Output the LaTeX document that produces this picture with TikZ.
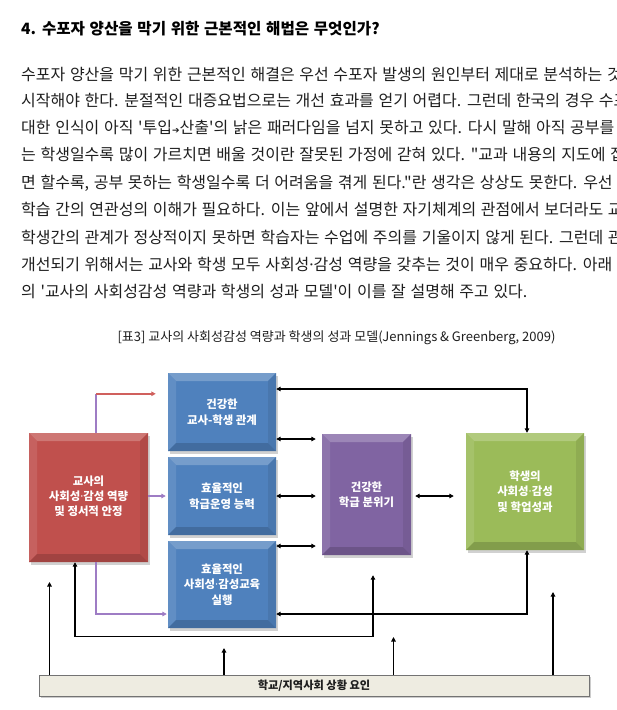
\documentclass[tikz,border=0pt]{standalone}
\usepackage{fontspec}
\setmainfont{Noto Sans CJK KR}
\newfontfamily\parafont[WordSpace=1.3]{Noto Sans CJK KR}
\newfontfamily\latinfont{Noto Sans}
\newfontfamily\dejavu{DejaVu Sans}
\newcommand\md{{\latinfont ·}}
\usetikzlibrary{arrows.meta}
\definecolor{bxblue}{HTML}{4F81BD}
\definecolor{bxred}{HTML}{C0504D}
\definecolor{bxpurple}{HTML}{8064A2}
\definecolor{bxgreen}{HTML}{9BBB59}
\definecolor{barfill}{HTML}{EEECE1}
\definecolor{lineviolet}{HTML}{9E7CC4}
\definecolor{linered}{HTML}{D0605D}
\definecolor{txt}{HTML}{1E1E1E}
\tikzset{
  para/.style={anchor=base west, inner sep=0pt, text=txt,
    font=\parafont\fontsize{16}{19}\selectfont},
  headline/.style={anchor=base west, inner sep=0pt, text=black,
    font=\parafont\bfseries\fontsize{15.6}{19}\selectfont},
  captionstyle/.style={inner sep=0pt, text=txt, font=\fontsize{13}{15}\selectfont},
  boxtext/.style={inner sep=0pt, text=white, align=center,
    font=\bfseries\fontsize{11.4}{15.5}\selectfont},
  con/.style={line width=1.4pt, draw=black,
    arrows={-Triangle[length=4.5pt,width=4.5pt]}},
  dbl/.style={line width=1.4pt, draw=black,
    arrows={Triangle[length=4.5pt,width=4.5pt]-Triangle[length=4.5pt,width=4.5pt]}},
  vline/.style={line width=1.4pt, draw=lineviolet},
  varrow/.style={line width=1.4pt, draw=lineviolet,
    arrows={-Triangle[length=4.5pt,width=4.5pt]}},
  rarrow/.style={line width=1.4pt, draw=linered,
    arrows={-Triangle[length=4.5pt,width=4.5pt]}},
}
% name, x1, y1, x2, y2, colour, text
\newcommand\mybevel[7]{%
  \fill[black!18] (#2+1.5,#3+2.5) rectangle (#4+1.5,#5+2.5);
  \fill[#6] (#2,#3) rectangle (#4,#5);
  \fill[#6!78!white] (#2,#3)--(#4,#3)--(#4-8,#3+8)--(#2+8,#3+8)--cycle;
  \fill[#6!90!white] (#2,#3)--(#2+8,#3+8)--(#2+8,#5-8)--(#2,#5)--cycle;
  \fill[#6!92!black] (#4,#3)--(#4,#5)--(#4-8,#5-8)--(#4-8,#3+8)--cycle;
  \fill[#6!84!black] (#2,#5)--(#4,#5)--(#4-8,#5-8)--(#2+8,#5-8)--cycle;
  \node[boxtext, minimum width={(#4-#2)*1pt}, minimum height={(#5-#3)*1pt}]
    (#1) at ({(#2+#4)/2},{(#3+#5)/2}) {#7};
}
\begin{document}
\begin{tikzpicture}[x=1pt,y=-1pt]
\useasboundingbox (0,0) rectangle (617,710);
\clip (0,0) rectangle (617,710);
\fill[white] (0,0) rectangle (617,710);

% heading and paragraph
\node[headline] (h) at (21,34.5) {4. 수포자 양산을 막기 위한 근본적인 해법은 무엇인가?};
\node[para] (l1) at (21,80.5) {수포자 양산을 막기 위한 근본적인 해결은 우선 수포자 발생의 원인부터 제대로 분석하는 것};
\node[para] (l2) at (21,106) {시작해야 한다. 분절적인 대증요법으로는 개선 효과를 얻기 어렵다. 그런데 한국의 경우 수포};
\node[para] (l3) at (21,133) {대한 인식이 아직 '투입{\dejavu\fontsize{9}{10}\selectfont ➔}산출'의 낡은 패러다임을 넘지 못하고 있다. 다시 말해 아직 공부를 못};
\node[para] (l4) at (21,160) {는 학생일수록 많이 가르치면 배울 것이란 잘못된 가정에 갇혀 있다. "교과 내용의 지도에 집};
\node[para] (l5) at (21,188) {면 할수록, 공부 못하는 학생일수록 더 어려움을 겪게 된다."란 생각은 상상도 못한다. 우선 관};
\node[para] (l6) at (21,215) {학습 간의 연관성의 이해가 필요하다. 이는 앞에서 설명한 자기체계의 관점에서 보더라도 교};
\node[para] (l7) at (21,243) {학생간의 관계가 정상적이지 못하면 학습자는 수업에 주의를 기울이지 않게 된다. 그런데 관};
\node[para] (l8) at (21,270.5) {개선되기 위해서는 교사와 학생 모두 사회성\md 감성 역량을 갖추는 것이 매우 중요하다. 아래 [표};
\node[para] (l9) at (21,297.5) {의 '교사의 사회성감성 역량과 학생의 성과 모델'이 이를 잘 설명해 주고 있다.};

% caption
\node[captionstyle] (cap) at (336.5,338) {[표3] 교사의 사회성감성 역량과 학생의 성과 모델(Jennings \& Greenberg, 2009)};

% boxes
\mybevel{r}{29}{433}{148}{562}{bxred}{\raisebox{4pt}{\begin{tabular}{@{}c@{}}교사의\\[-0.5pt]사회성\md 감성 역량\\[-0.5pt]및 정서적 안정\end{tabular}}}
\mybevel{b1}{168}{373}{276}{451}{bxblue}{건강한\\교사-학생 관계}
\mybevel{b2}{168}{457}{276}{535}{bxblue}{효율적인\\학급운영 능력}
\mybevel{b3}{168}{541}{276}{628}{bxblue}{효율적인\\사회성\md 감성교육\\실행}
\mybevel{p}{322}{434}{411}{555}{bxpurple}{건강한\\학급 분위기}
\mybevel{g}{466}{433}{584}{550}{bxgreen}{학생의\\사회성\md 감성\\및 학업성과}

% bottom bar
\fill[black!20] (40.5,677) rectangle (590.5,698);
\node[draw=black!55, line width=0.8pt, fill=barfill, minimum width=550pt, minimum height=21pt,
  inner sep=0pt, text=txt, font=\bfseries\fontsize{11.2}{13}\selectfont] (bar) at (314,685.5) {학교/지역사회 상황 요인};

% connectors
\coordinate (a1) at ([yshift=23pt]b1.east);
\draw[dbl] (a1) -| ([xshift=2pt]g.north);
\coordinate (a2) at ([yshift=-27pt]b1.east);
\draw[dbl, shorten >=6pt] (a2) -- (a2 -| p.west);
\draw[dbl, shorten >=6pt] (b2.east) -- (b2.east -| p.west);
\coordinate (a3) at ([yshift=38.5pt]b3.east);
\draw[dbl, shorten >=6pt] (a3) -- (a3 -| p.west);
\draw[dbl, shorten <=4pt, shorten >=12pt] (b2.east -| p.east) -- (b2.east -| g.west);

\draw[varrow, shorten >=2pt] (b2.west -| r.east) -- (b2.west);
\coordinate (rk) at ([xshift=7.5pt,yshift=39pt]r.north);
\draw[vline] ([xshift=7.5pt]r.north) -- (rk);
\draw[rarrow, shorten >=12pt] (rk) -- (rk -| b1.west);
\coordinate (a4) at ([yshift=-29.5pt]b3.west);
\draw[varrow, shorten >=1pt] ([xshift=7.5pt]r.south) |- (a4);
\coordinate (a5) at ([yshift=-29.5pt]b3.east);
\draw[dbl] ([xshift=2pt]g.south) |- (a5);
\coordinate (a6) at ([xshift=6.5pt,yshift=-20pt]p.south);
\draw[dbl] ([xshift=-13.5pt]r.south) -- ++(0,74) -| (a6);

\coordinate (u1) at (49.5,582);
\coordinate (u2) at (224,648);
\coordinate (u3) at (393.5,637);
\coordinate (u4) at (553,592);
\draw[con] (bar.north -| u1) -- (u1);
\draw[con] (bar.north -| u2) -- (u2);
\draw[con] (bar.north -| u3) -- (u3);
\draw[con] (bar.north -| u4) -- (u4);
\end{tikzpicture}
\end{document}
